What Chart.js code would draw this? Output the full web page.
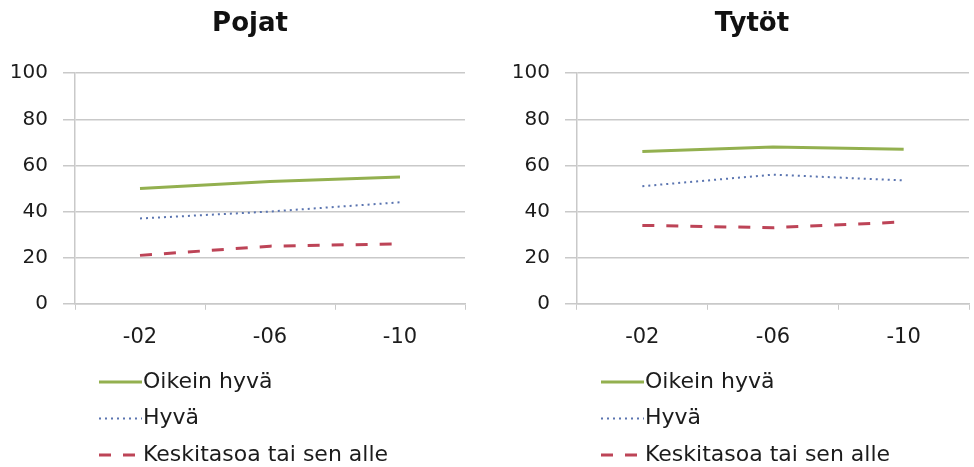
<!DOCTYPE html>
<html>
<head>
<meta charset="utf-8">
<script src="https://cdn.jsdelivr.net/npm/chart.js@4.4.0/dist/chart.umd.min.js"></script>
<style>
  html, body { margin: 0; padding: 0; background: #fff; overflow: hidden; }
  #wrap { position: relative; width: 974px; height: 467px; overflow: hidden; }
  canvas { position: absolute; top: 0; }
  #boys { left: 0; }
  #girls { left: 502px; }
</style>
</head>
<body>
<div id="wrap">
  <canvas id="boys" width="500" height="467"></canvas>
  <canvas id="girls" width="500" height="467"></canvas>
</div>
<script>
// data
const years = ['-02', '-06', '-10'];
const seriesNames = ['Oikein hyvä', 'Hyvä', 'Keskitasoa tai sen alle'];
const boysVeryGood = [50, 53, 55];
const boysGood = [37, 40, 44];
const boysAverage = [21, 25, 26];
const girlsVeryGood = [66, 68, 67];
const girlsGood = [51, 56, 53.5];
const girlsAverage = [34, 33, 35.5];
const yTicks = [0, 20, 40, 60, 80, 100];

const FONT = '"DejaVu Sans", sans-serif';
const gridColor = '#c9c9c9';
const textColor = '#1c1c1c';

// vertical legend under the x axis, drawn from the datasets
const listLegend = {
    id: 'listLegend',
    afterDraw(chart) {
        const ctx = chart.ctx;
        const x0 = chart.chartArea.left + 24;
        const top = chart.scales.x.bottom;
        ctx.save();
        chart.data.datasets.forEach((ds, i) => {
            const y = top + 17 + i * 36.5;
            ctx.beginPath();
            ctx.strokeStyle = ds.borderColor;
            ctx.lineWidth = ds.borderWidth;
            ctx.setLineDash(ds.borderDash || []);
            ctx.moveTo(x0, y);
            ctx.lineTo(x0 + 43, y);
            ctx.stroke();
            ctx.setLineDash([]);
            ctx.fillStyle = textColor;
            ctx.font = '22px ' + FONT;
            ctx.textBaseline = 'middle';
            ctx.fillText(ds.label, x0 + 44, y);
        });
        ctx.restore();
    }
};

// spare: width of an empty right-hand box, so the title sits where it does in the picture
function makeChart(id, title, veryGood, good, average, spare) {
    return new Chart(document.getElementById(id), {
        type: 'line',
        data: {
            labels: years,
            datasets: [
                {
                    label: seriesNames[0],
                    data: veryGood,
                    borderColor: '#93b04f',
                    borderWidth: 3
                },
                {
                    label: seriesNames[1],
                    data: good,
                    borderColor: '#5a74b0',
                    borderWidth: 2,
                    borderDash: [2, 4]
                },
                {
                    label: seriesNames[2],
                    data: average,
                    borderColor: '#bd4457',
                    borderWidth: 3,
                    borderDash: [12, 12]
                }
            ]
        },
        options: {
            responsive: false,
            animation: false,
            devicePixelRatio: 1,
            elements: {
                point: { radius: 0 },
                line: { tension: 0, fill: false }
            },
            layout: { padding: { left: 0, right: 0, top: 0, bottom: 102 } },
            plugins: {
                legend: { display: false },
                tooltip: { enabled: false },
                title: {
                    display: true,
                    text: title,
                    color: '#111',
                    font: { family: FONT, size: 26, weight: 'bold' },
                    padding: { top: 9, bottom: 33 }
                }
            },
            scales: {
                x: {
                    type: 'category',
                    offset: true,
                    grid: {
                        offset: true,
                        drawOnChartArea: false,
                        color: gridColor,
                        tickLength: 6
                    },
                    border: { color: gridColor, width: 1.5 },
                    ticks: {
                        color: textColor,
                        padding: 15,
                        font: { family: FONT, size: 21 }
                    }
                },
                y: {
                    min: yTicks[0],
                    max: yTicks[yTicks.length - 1],
                    afterFit(scale) { scale.width = 75; },
                    afterBuildTicks(scale) {
                        scale.ticks = yTicks.map(v => ({ value: v }));
                    },
                    grid: { color: gridColor, lineWidth: 1.5, tickLength: 12 },
                    border: { color: gridColor, width: 1.5 },
                    ticks: {
                        color: textColor,
                        padding: 15,
                        font: { family: FONT, size: 20 }
                    }
                },
                spare: {
                    type: 'linear',
                    position: 'right',
                    afterFit(scale) { scale.width = spare; },
                    grid: { display: false },
                    border: { display: false },
                    ticks: { display: false }
                }
            }
        },
        plugins: [listLegend]
    });
}

makeChart('boys', 'Pojat', boysVeryGood, boysGood, boysAverage, 35);
makeChart('girls', 'Tytöt', girlsVeryGood, girlsGood, girlsAverage, 33);
</script>
</body>
</html>
